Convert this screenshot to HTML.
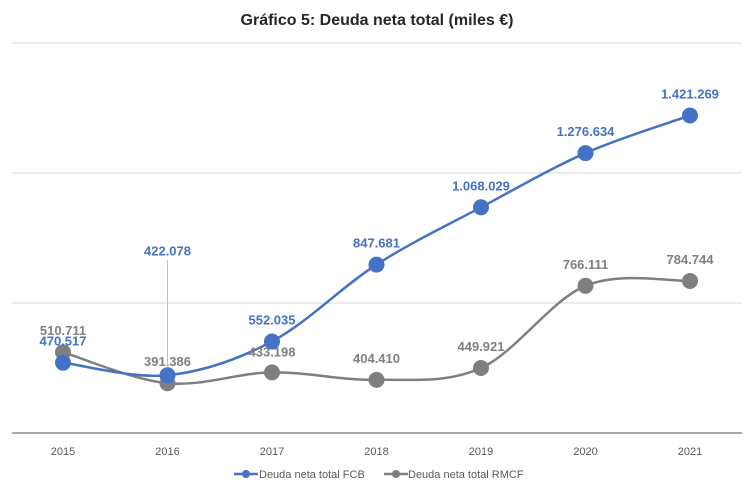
<!DOCTYPE html>
<html><head><meta charset="utf-8"><style>
body{margin:0;background:#fff;font-family:"Liberation Sans",sans-serif}
svg{display:block}
</style></head><body>
<svg id="chart" width="754" height="492">
<text x="377" y="25" text-anchor="middle" font-size="16" font-weight="bold" fill="#262626">Gráfico 5: Deuda neta total (miles €)</text>
<g id="grid"></g><g id="series"></g><g id="labels"></g>
<g>
<g><line x1="234" y1="474" x2="258" y2="474" stroke="#4472C4" stroke-width="2.5"/><circle cx="246" cy="474" r="4" fill="#4472C4"/><text x="259" y="478" font-size="11" fill="#595959">Deuda neta total FCB</text></g>
<g><line x1="384" y1="474" x2="408" y2="474" stroke="#7F7F7F" stroke-width="2.5"/><circle cx="396" cy="474" r="4" fill="#7F7F7F"/><text x="408" y="478" font-size="11" fill="#595959">Deuda neta total RMCF</text></g>
</g>
</svg>
<script>
const years=["2015","2016","2017","2018","2019","2020","2021"];
const fcb=[470517,422078,552035,847681,1068029,1276634,1421269];
const rmcf=[510711,391386,433198,404410,449921,766111,784744];
const gridVals=[200000,700000,1200000,1700000];
const NS="http://www.w3.org/2000/svg";
const X=i=>63+i*104.5;
const Y=v=>433-(v-200000)*0.00026;
const fmt=v=>v.toLocaleString('de-DE');
function mk(tag,attrs,parent){const e=document.createElementNS(NS,tag);for(const k in attrs)e.setAttribute(k,attrs[k]);parent.appendChild(e);return e;}
const grid=document.getElementById('grid');
gridVals.forEach((g,i)=>{const l=mk('line',{x1:12,x2:742,y1:Y(g),y2:Y(g),stroke:i==0?'#8c8c8c':'#d9d9d9','stroke-width':i==0?1.5:1},grid);

});
years.forEach((y,i)=>{const t=mk('text',{x:X(i),y:455,'text-anchor':'middle','font-size':11,fill:'#595959'},grid);t.textContent=y;

});
function path(vals){const p=vals.map((v,i)=>[X(i),Y(v)]);let d=`M${p[0][0]},${p[0][1]}`;
for(let i=0;i<p.length-1;i++){const p0=p[i-1]||p[i],p1=p[i],p2=p[i+1],p3=p[i+2]||p2;const t=6;
d+=` C${p1[0]+(p2[0]-p0[0])/t},${p1[1]+(p2[1]-p0[1])/t} ${p2[0]-(p3[0]-p1[0])/t},${p2[1]-(p3[1]-p1[1])/t} ${p2[0]},${p2[1]}`;}return d;}
const sg=document.getElementById('series'),lg=document.getElementById('labels');
function draw(vals,color,name,offs){
const pl=mk('path',{d:path(vals),fill:'none',stroke:color,'stroke-width':2.5},sg);


vals.forEach((v,i)=>{const c=mk('circle',{cx:X(i),cy:Y(v),r:8,fill:color},sg);


const ly=Y(v)+offs[i];
if(offs[i]<-40){const ll=mk('line',{x1:X(i),x2:X(i),y1:ly+5,y2:Y(v)-8,stroke:'#bfbfbf'},lg);

}
const t=mk('text',{x:X(i),y:ly,'text-anchor':'middle','font-size':13,'font-weight':'bold',fill:color},lg);t.textContent=fmt(v);

});}
draw(rmcf,'#7F7F7F','rmcf',[-17,-17,-16,-17,-17,-17,-17]);
draw(fcb,'#4472C4','fcb',[-17,-120,-17,-17,-17,-17,-17]);
</script>
</body></html>
